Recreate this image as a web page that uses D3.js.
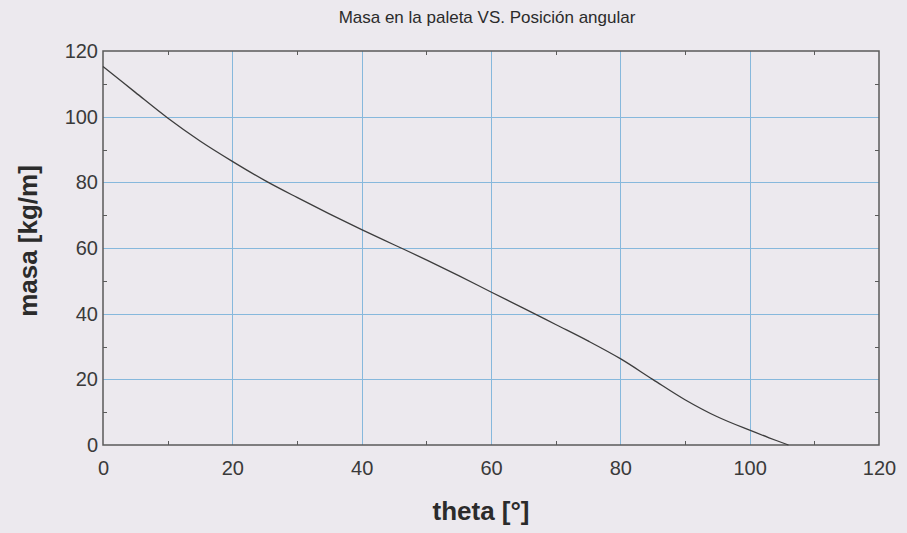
<!DOCTYPE html>
<html lang="es">
	<head>
		<meta charset="utf-8">
		<title>Masa en la paleta VS. Posición angular</title>
		<script type="text/javascript" src="https://cdn.jsdelivr.net/npm/d3@7"></script>
		<style type="text/css">
			body {
				margin: 0;
				background: #ece9ee;
				}
			text {
				font-family: "Liberation Sans", Arial, sans-serif;
				fill: #2b2b2b;
				}
			.grid line {
				stroke: #86b8dc;
				stroke-width: 1;
				shape-rendering: crispEdges;
				}
			.grid path {
				display: none;
				}
			.axis path,
			.axis line {
				stroke: #5a5a5a;
				shape-rendering: crispEdges;
				}
			.axis text {
				font-size: 20px;
				fill: #3a3a3a;
				}
		</style>
	</head>
	<body>
		<script type="text/javascript">

			// data (theta in degrees, masa in kg/m)
			var theta = [0, 5, 10, 15, 20, 25, 30, 35, 40, 45, 50, 55, 60, 65, 70, 75, 80, 85, 90, 95, 100, 103, 106];
			var masa = [115.3, 107.4, 99.6, 92.6, 86.4, 80.6, 75.4, 70.4, 65.6, 61.0, 56.4, 51.6, 46.6, 41.7, 36.7, 31.7, 26.3, 20.0, 13.8, 8.6, 4.5, 2.2, 0];

			var xTicks = [0, 20, 40, 60, 80, 100, 120];
			var yTicks = [0, 20, 40, 60, 80, 100, 120];
			var minorTicks = [10, 30, 50, 70, 90, 110];

			var titulo = "Masa en la paleta VS. Posición angular";
			var xLabel = "theta [°]";
			var yLabel = "masa [kg/m]";

			var W = 907, H = 533;
			var mLeft = 103, mTop = 51, w = 776, h = 394;

			var svg = d3.select("body")
						.append("svg")
						.attr("width", W)
						.attr("height", H);

			var xScale = d3.scaleLinear().domain([0, 120]).range([mLeft, mLeft + w]);
			var yScale = d3.scaleLinear().domain([0, 120]).range([mTop + h, mTop]);

			// grid
			svg.append("g")
				.attr("class", "grid")
				.attr("transform", "translate(0," + (mTop + h) + ")")
				.call(d3.axisBottom(xScale).tickValues(xTicks.slice(1, -1)).tickSize(-h).tickFormat(""));

			svg.append("g")
				.attr("class", "grid")
				.attr("transform", "translate(" + mLeft + ",0)")
				.call(d3.axisLeft(yScale).tickValues(yTicks.slice(1, -1)).tickSize(-w).tickFormat(""));

			// box
			svg.append("rect")
				.attr("x", mLeft)
				.attr("y", mTop)
				.attr("width", w)
				.attr("height", h)
				.attr("fill", "none")
				.attr("stroke", "#5a5a5a")
				.attr("stroke-width", 1.5);

			// axes with labels
			svg.append("g")
				.attr("class", "axis")
				.attr("transform", "translate(0," + (mTop + h) + ")")
				.call(d3.axisBottom(xScale).tickValues(xTicks).tickSize(0).tickPadding(16))
				.call(function(g) { g.select(".domain").remove(); });

			svg.append("g")
				.attr("class", "axis")
				.attr("transform", "translate(" + mLeft + ",0)")
				.call(d3.axisLeft(yScale).tickValues(yTicks).tickSize(0).tickPadding(5))
				.call(function(g) { g.select(".domain").remove(); });

			// minor ticks pointing inward on all four sides
			var tk = 4;
			var minors = svg.append("g").attr("class", "axis");
			minors.append("g")
				.attr("transform", "translate(0," + (mTop + h) + ")")
				.call(d3.axisTop(xScale).tickValues(minorTicks).tickSize(tk).tickFormat(""))
				.call(function(g) { g.select(".domain").remove(); });
			minors.append("g")
				.attr("transform", "translate(0," + mTop + ")")
				.call(d3.axisBottom(xScale).tickValues(minorTicks).tickSize(tk).tickFormat(""))
				.call(function(g) { g.select(".domain").remove(); });
			minors.append("g")
				.attr("transform", "translate(" + mLeft + ",0)")
				.call(d3.axisRight(yScale).tickValues(minorTicks).tickSize(tk).tickFormat(""))
				.call(function(g) { g.select(".domain").remove(); });
			minors.append("g")
				.attr("transform", "translate(" + (mLeft + w) + ",0)")
				.call(d3.axisLeft(yScale).tickValues(minorTicks).tickSize(tk).tickFormat(""))
				.call(function(g) { g.select(".domain").remove(); });

			// curve
			var line = d3.line()
				.x(function(d, i) { return xScale(theta[i]); })
				.y(function(d) { return yScale(d); })
				.curve(d3.curveCatmullRom);

			svg.append("path")
				.datum(masa)
				.attr("d", line)
				.attr("fill", "none")
				.attr("stroke", "#3d3d3d")
				.attr("stroke-width", 1.3);

			// titles
			svg.append("text")
				.attr("x", 487)
				.attr("y", 23)
				.attr("text-anchor", "middle")
				.attr("font-size", "17px")
				.text(titulo);

			svg.append("text")
				.attr("x", 481)
				.attr("y", 520)
				.attr("text-anchor", "middle")
				.attr("font-size", "26px")
				.attr("font-weight", "bold")
				.text(xLabel);

			svg.append("text")
				.attr("transform", "translate(37,241) rotate(-90)")
				.attr("text-anchor", "middle")
				.attr("font-size", "26px")
				.attr("font-weight", "bold")
				.text(yLabel);

		</script>
	</body>
</html>
